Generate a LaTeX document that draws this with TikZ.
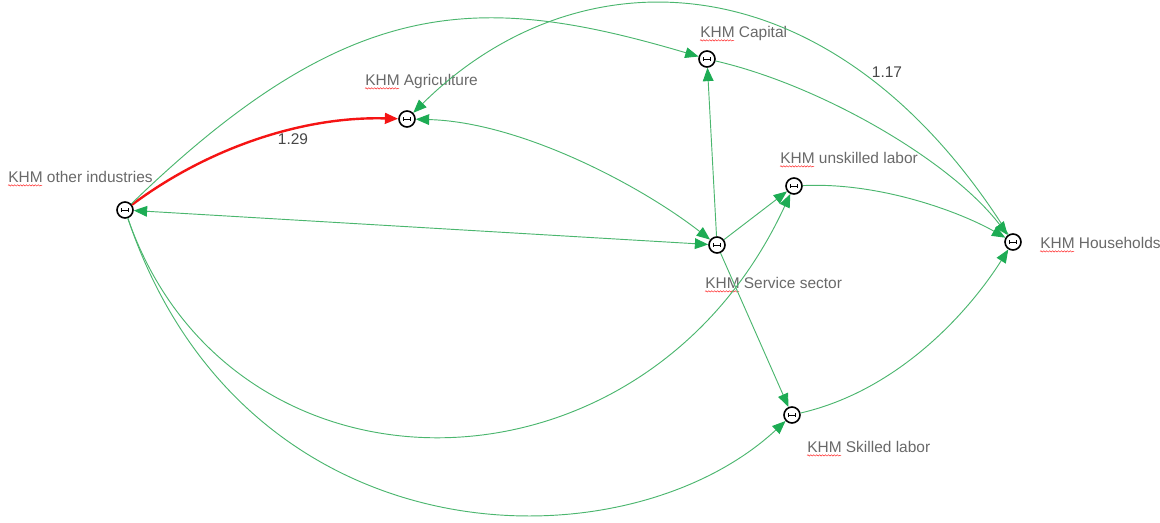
\documentclass[tikz,border=0pt]{standalone}
\usepackage{fontspec}
\setmainfont{Liberation Sans}
\usetikzlibrary{arrows.meta,decorations.pathmorphing}
\definecolor{tipgreen}{RGB}{29,172,84}
\definecolor{linegreen}{RGB}{75,182,110}
\definecolor{tagtext}{RGB}{105,105,105}
\definecolor{hotred}{RGB}{245,20,20}
\tikzset{
  sect/.style  = {circle, draw=black, line width=1.2pt, fill=white,
                  minimum size=12pt, inner sep=0pt,
                  path picture={
                    \draw[line width=0.7pt] ([xshift=-2.8pt]path picture bounding box.center)
                        -- ([xshift=2.8pt]path picture bounding box.center);
                    \draw[line width=0.6pt] ([xshift=-2.8pt,yshift=-1.4pt]path picture bounding box.center)
                        -- ([xshift=-2.8pt,yshift=1.4pt]path picture bounding box.center);
                    \draw[line width=0.6pt] ([xshift=2.8pt,yshift=-1.4pt]path picture bounding box.center)
                        -- ([xshift=2.8pt,yshift=1.4pt]path picture bounding box.center);}},
  tag/.style   = {anchor=base west, inner sep=0pt, text=tagtext,
                  font=\fontsize{11.6}{14}\selectfont},
  wgt/.style   = {inner sep=0pt, text=black!72, font=\fontsize{11.6}{14}\selectfont},
  squig/.style = {draw=red!85, line width=0.35pt,
                  decorate, decoration={snake, segment length=2.2pt, amplitude=0.5pt}},
  flow/.style  = {-{Triangle[length=10pt,width=8pt,color=tipgreen]}, draw=linegreen, line width=0.7pt},
  bus/.style   = {{Triangle[length=10pt,width=8pt,color=tipgreen]}-{Triangle[length=10pt,width=8pt,color=tipgreen]},
                  draw=linegreen, line width=0.7pt},
  hot/.style   = {-{Triangle[length=10pt,width=8pt]}, draw=hotred, line width=1.8pt},
}
\begin{document}
\begin{tikzpicture}[x=0.75pt, y=-0.75pt]
  \useasboundingbox (0,0) rectangle (1160,523);

  % sectors
  \node[sect] (oth) at (125,210) {};
  \node[sect] (agr) at (407,119) {};
  \node[sect] (cap) at (707,59)  {};
  \node[sect] (unsk) at (794,186) {};
  \node[sect] (serv) at (717,245) {};
  \node[sect] (hh) at (1013,242) {};
  \node[sect] (skl) at (792,415) {};

  % labels
  \node[tag] (l-oth)  at (8,183)    {KHM other industries};
  \node[tag] (l-agr)  at (365,86)   {KHM Agriculture};
  \node[tag] (l-cap)  at (700,38)   {KHM Capital};
  \node[tag] (l-unsk) at (780,164)  {KHM unskilled labor};
  \node[tag] (l-serv) at (705,289)  {KHM Service sector};
  \node[tag] (l-hh)   at (1040,249) {KHM Households};
  \node[tag] (l-skl)  at (807,453)  {KHM Skilled labor};
  \foreach \l in {l-oth,l-agr,l-cap,l-unsk,l-serv,l-hh,l-skl}
    \draw[squig] ([yshift=-1.8pt]\l.base west) -- ++(25.5pt,0);

  % flows
  \draw[hot] (oth) .. controls (205,150) and (300,116) .. (agr);
  \node[wgt] (w-oa) at (293,139) {1.29};

  \draw[flow] (oth) .. controls (350,-8) and (480,-8) .. (cap);
  \draw[flow] (hh) .. controls (834,-44) and (580,-52) .. (agr);
  \node[wgt] (w-ha) at (887,72) {1.17};

  \draw[bus] (agr) .. controls (520,122) and (640,185) .. (serv);
  \draw[bus] (oth) -- (serv);

  \draw[flow] (serv) -- (cap);
  \draw[flow] (serv) -- (unsk);
  \draw[flow] (serv) -- (skl);

  \draw[flow] (cap) .. controls (820,85) and (950,160) .. (hh);
  \draw[flow] (unsk) .. controls (880,182) and (960,212) .. (hh);
  \draw[flow] (skl) .. controls (900,390) and (970,310) .. (hh);

  \draw[flow] (oth) .. controls (230,513) and (643,513) .. (unsk);
  \draw[flow] (oth) .. controls (245,565) and (625,570) .. (skl);

\end{tikzpicture}
\end{document}
